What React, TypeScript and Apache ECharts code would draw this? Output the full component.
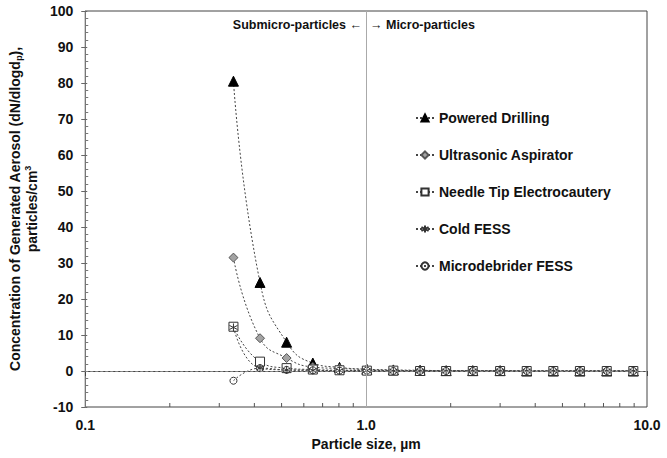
import React, { useEffect, useRef } from "react";
import * as echarts from "echarts";

// Particle size bins (µm)
const sizes = [0.337, 0.419, 0.521, 0.646, 0.804, 1.006, 1.25, 1.556, 1.927, 2.397, 2.999, 3.73, 4.64, 5.77, 7.19, 8.94];

// Series values (dN/dlogdp, particles/cm3)
const poweredDrilling = [80.5, 24.6, 8.0, 2.2, 1.0, 0.5, 0.3, 0.2, 0.1, 0.1, 0.1, 0.0, 0.0, 0.0, 0.0, 0.0];
const ultrasonicAspirator = [31.5, 9.1, 3.6, 1.1, 0.7, 0.4, 0.2, 0.1, 0.1, 0.0, 0.0, 0.0, 0.0, 0.0, 0.0, 0.0];
const needleTip = [12.3, 2.6, 0.8, 0.4, 0.2, 0.1, 0.1, 0.0, 0.0, 0.0, 0.0, 0.0, 0.0, 0.0, 0.0, 0.0];
const coldFess = [12.1, 0.8, 0.3, 0.2, 0.1, 0.1, 0.0, 0.0, 0.0, 0.0, 0.0, 0.0, 0.0, 0.0, 0.0, 0.0];
const microdebrider = [-2.7, 0.8, 0.3, 0.2, 0.1, 0.1, 0.0, 0.0, 0.0, 0.0, 0.0, 0.0, 0.0, 0.0, 0.0, 0.0];

const seriesNames = ["Powered Drilling", "Ultrasonic Aspirator", "Needle Tip Electrocautery", "Cold FESS", "Microdebrider FESS"];

// Axis ticks
const xMinorTicks = [0.2, 0.3, 0.4, 0.5, 0.6, 0.7, 0.8, 0.9, 2, 3, 4, 5, 6, 7, 8, 9];
const yMin = -10;
const yMax = 100;
const yStep = 10;
const xMin = 0.1;
const xMax = 10;

const FONT = "'Liberation Sans', Arial, Helvetica, sans-serif";
const LINE = "#444";

const asterisk = "path://M5 0 L5 10 M0.67 2.5 L9.33 7.5 M0.67 7.5 L9.33 2.5";

export default function App() {
  const ref = useRef<HTMLDivElement>(null);
  useEffect(() => {
    document.body.style.margin = "0";
    if (!ref.current) return;
    const chart = echarts.init(ref.current, null, { renderer: "svg" });
    const pair = (vals: number[]) => sizes.map((s, i) => [s, vals[i]]);
    const base = {
      type: "line" as const,
      smooth: true,
      symbolSize: 8,
      lineStyle: { color: LINE, width: 1, type: [2, 2] as any },
      z: 3,
    };
    const option: any = {
      animation: false,
      backgroundColor: "#fff",
      textStyle: { fontFamily: FONT },
      grid: { left: 85, right: 20, top: 11, bottom: 51, show: true, borderColor: "#444", borderWidth: 1, backgroundColor: "transparent" },
      legend: {
        left: 410,
        top: 106,
        orient: "vertical",
        itemGap: 23,
        itemWidth: 18,
        itemHeight: 9,
        data: seriesNames,
        textStyle: { fontFamily: FONT, fontSize: 14, fontWeight: "bold", color: "#111" },
      },
      xAxis: {
        type: "log",
        logBase: 10,
        min: xMin,
        max: xMax,
        axisLine: { lineStyle: { color: "#444" } },
        axisTick: { show: true, length: 5, lineStyle: { color: "#444" } },
        axisLabel: {
          margin: 11,
          fontFamily: FONT,
          fontSize: 14,
          fontWeight: "bold",
          color: "#111",
          formatter: (v: number) => v.toFixed(1),
        },
        splitLine: { show: false },
        name: "Particle size, µm",
        nameLocation: "middle",
        nameGap: 27,
        nameTextStyle: { fontFamily: FONT, fontSize: 14, fontWeight: "bold", color: "#111" },
      },
      yAxis: [
        {
          type: "value",
          min: yMin,
          max: yMax,
          interval: yStep,
          axisLine: { show: true, lineStyle: { color: "#777" } },
          axisTick: { show: true, length: 4, lineStyle: { color: "#666" } },
          axisLabel: { margin: 12, fontFamily: FONT, fontSize: 14, fontWeight: "bold", color: "#111" },
          splitLine: { show: false },
          name:
            "{t|Concentration of Generated Aerosol (dN/dlogd}{s|p}{t|),}\n{t|particles/cm}{u|3}",
          nameLocation: "middle",
          nameRotate: 90,
          nameGap: 32,
          nameTextStyle: {
            align: "center",
            rich: {
              t: { fontFamily: FONT, fontSize: 14, fontWeight: "bold", color: "#111", lineHeight: 17 },
              s: { fontFamily: FONT, fontSize: 9, fontWeight: "bold", color: "#111", lineHeight: 10, verticalAlign: "bottom" },
              u: { fontFamily: FONT, fontSize: 9, fontWeight: "bold", color: "#111", lineHeight: 10, verticalAlign: "top" },
            },
          },
        },
        {
          type: "value",
          min: yMin,
          max: yMax,
          interval: yStep,
          position: "left",
          offset: 0,
          axisLine: { show: false },
          axisLabel: { show: false },
          axisTick: { show: true, inside: true, length: 2, lineStyle: { color: "#666" } },
          minorTick: { show: true, splitNumber: 5, length: 3, lineStyle: { color: "#777" } },
          splitLine: { show: false },
        },
      ],
      graphic: [
        {
          type: "text",
          x: 362,
          y: 25,
          style: { text: "Submicro-particles ←", fontFamily: FONT, fontSize: 12.5, fontWeight: "bold", fill: "#111", align: "right", verticalAlign: "middle" },
        },
        {
          type: "text",
          x: 370,
          y: 25,
          style: { text: "→ Micro-particles", fontFamily: FONT, fontSize: 12.5, fontWeight: "bold", fill: "#111", align: "left", verticalAlign: "middle" },
        },
      ],
      series: [
        {
          type: "custom",
          name: "minorTicksX",
          silent: true,
          z: 1,
          data: xMinorTicks.map((v) => [v, yMin]),
          renderItem: (params: any, api: any) => {
            const p = api.coord([api.value(0), yMin]);
            return {
              type: "line",
              shape: { x1: p[0], y1: p[1], x2: p[0], y2: p[1] - 4 },
              style: { stroke: "#555", lineWidth: 1 },
            };
          },
        },
        {
          ...base,
          name: seriesNames[0],
          data: pair(poweredDrilling),
          symbol: "triangle",
          symbolSize: 10,
          itemStyle: { color: "#000", borderColor: "#000", borderWidth: 1 },
          markLine: {
            silent: true,
            symbol: ["none", "none"],
            label: { show: false },
            data: [
              { xAxis: 1, lineStyle: { color: "#aaa", type: "solid", width: 1 } },
              { yAxis: 0, lineStyle: { color: "#888", type: [3, 2], width: 1 } },
            ],
          },
        },
        {
          ...base,
          name: seriesNames[1],
          data: pair(ultrasonicAspirator),
          symbol: "diamond",
          symbolSize: 9,
          itemStyle: { color: "#a3a3a3", borderColor: "#555", borderWidth: 1 },
        },
        {
          ...base,
          name: seriesNames[2],
          data: pair(needleTip),
          symbol: "rect",
          symbolSize: 9,
          itemStyle: { color: "#fff", borderColor: "#333", borderWidth: 1 },
        },
        {
          ...base,
          name: seriesNames[3],
          data: pair(coldFess),
          symbol: asterisk,
          symbolSize: 8,
          itemStyle: { color: "#333", borderColor: "#333", borderWidth: 1 },
        },
        {
          ...base,
          name: seriesNames[4],
          data: pair(microdebrider),
          symbol: "circle",
          symbolSize: 7,
          itemStyle: { color: "rgba(255,255,255,0)", borderColor: "#333", borderWidth: 1 },
        },
      ],
    };
    chart.setOption(option);
    return () => chart.dispose();
  }, []);
  return <div ref={ref} style={{ width: 667, height: 458 }} />;
}
